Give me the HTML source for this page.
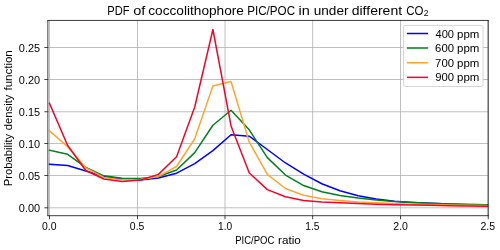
<!DOCTYPE html><html><head><meta charset="utf-8"><title>PDF of coccolithophore PIC/POC</title><style>html,body{margin:0;padding:0;background:#fff;}svg{display:block;will-change:transform;opacity:0.999;}text{font-family:"Liberation Sans",sans-serif;fill:#000;}</style></head><body>
<svg width="500" height="250" viewBox="0 0 500 250">
<rect x="0" y="0" width="500" height="250" fill="#fff"/>
<clipPath id="c"><rect x="47.87" y="20.45" width="440.28" height="195.25"/></clipPath>
<path d="M49.50 20.45V215.7M137.50 20.45V215.7M225.00 20.45V215.7M312.65 20.45V215.7M400.50 20.45V215.7M488.25 20.45V215.7M47.87 207.80H488.15M47.87 175.50H488.15M47.87 143.50H488.15M47.87 111.75H488.15M47.87 79.50H488.15M47.87 47.50H488.15" stroke="#b0b0b0" stroke-width="0.8" fill="none"/>
<polyline clip-path="url(#c)" points="49.50,164.26 67.66,165.55 85.81,171.01 103.97,176.59 122.12,179.35 140.28,180.12 158.43,178.00 176.59,173.19 194.74,163.62 212.90,150.59 231.05,134.73 249.21,136.21 267.36,149.50 285.52,162.98 303.67,174.09 321.83,183.72 339.98,190.78 358.14,195.72 376.29,199.00 394.45,201.18 412.60,202.46 430.76,203.36 448.91,203.94 467.07,204.39 485.22,204.71 503.38,204.97" fill="none" stroke="#0000ff" stroke-width="1.5" stroke-linejoin="round" stroke-linecap="square"/>
<polyline clip-path="url(#c)" points="49.50,150.27 67.66,154.31 85.81,167.47 103.97,175.82 122.12,178.26 140.28,178.52 158.43,176.53 176.59,169.98 194.74,152.64 212.90,125.23 231.05,110.27 249.21,129.79 267.36,157.59 285.52,175.05 303.67,185.58 321.83,191.68 339.98,195.40 358.14,198.10 376.29,200.02 394.45,201.50 412.60,202.46 430.76,203.36 448.91,203.94 467.07,204.39 485.22,204.71 503.38,204.97" fill="none" stroke="#00801e" stroke-width="1.5" stroke-linejoin="round" stroke-linecap="square"/>
<polyline clip-path="url(#c)" points="49.50,130.88 67.66,146.61 85.81,167.80 103.97,177.43 122.12,179.87 140.28,179.61 158.43,176.40 176.59,166.51 194.74,138.78 212.90,86.01 231.05,81.51 249.21,141.99 267.36,174.41 285.52,188.47 303.67,195.21 321.83,198.74 339.98,200.54 358.14,201.95 376.29,202.85 394.45,203.56 412.60,204.13 430.76,204.58 448.91,204.97 467.07,205.29 485.22,205.61 503.38,205.87" fill="none" stroke="#ffa52d" stroke-width="1.5" stroke-linejoin="round" stroke-linecap="square"/>
<polyline clip-path="url(#c)" points="49.50,103.27 67.66,145.52 85.81,170.49 103.97,179.03 122.12,181.47 140.28,180.12 158.43,174.34 176.59,156.69 194.74,107.00 212.90,29.51 231.05,125.94 249.21,172.80 267.36,189.62 285.52,196.81 303.67,200.47 321.83,201.89 339.98,202.72 358.14,203.56 376.29,204.20 394.45,204.65 412.60,205.03 430.76,205.35 448.91,205.67 467.07,205.93 485.22,206.19 503.38,206.38" fill="none" stroke="#fa0028" stroke-width="1.5" stroke-linejoin="round" stroke-linecap="square"/>
<path d="M49.50 215.7v3.5M137.50 215.7v3.5M225.00 215.7v3.5M312.65 215.7v3.5M400.50 215.7v3.5M488.25 215.7v3.5M47.87 207.80h-3.5M47.87 175.50h-3.5M47.87 143.50h-3.5M47.87 111.75h-3.5M47.87 79.50h-3.5M47.87 47.50h-3.5" stroke="#111" stroke-width="0.8" fill="none"/>
<path d="M47.87 20.05V216.1M488.15 20.05V216.1M47.449999999999996 20.45H488.54999999999995M47.449999999999996 215.7H488.54999999999995" fill="none" stroke="#111" stroke-width="0.82"/>
<text x="42.03" y="230.30" font-size="10.25" textLength="14.49" lengthAdjust="spacingAndGlyphs">0.0</text>
<text x="129.89" y="230.30" font-size="10.25" textLength="14.53" lengthAdjust="spacingAndGlyphs">0.5</text>
<text x="218.10" y="230.30" font-size="10.25" textLength="14.13" lengthAdjust="spacingAndGlyphs">1.0</text>
<text x="305.24" y="230.30" font-size="10.25" textLength="14.17" lengthAdjust="spacingAndGlyphs">1.5</text>
<text x="393.34" y="230.30" font-size="10.25" textLength="14.62" lengthAdjust="spacingAndGlyphs">2.0</text>
<text x="480.48" y="230.30" font-size="10.25" textLength="14.65" lengthAdjust="spacingAndGlyphs">2.5</text>
<text x="18.87" y="211.65" font-size="10.25" textLength="21.24" lengthAdjust="spacingAndGlyphs">0.00</text>
<text x="18.87" y="179.65" font-size="10.25" textLength="21.28" lengthAdjust="spacingAndGlyphs">0.05</text>
<text x="18.87" y="147.65" font-size="10.25" textLength="21.24" lengthAdjust="spacingAndGlyphs">0.10</text>
<text x="18.87" y="115.65" font-size="10.25" textLength="21.28" lengthAdjust="spacingAndGlyphs">0.15</text>
<text x="18.87" y="83.65" font-size="10.25" textLength="21.24" lengthAdjust="spacingAndGlyphs">0.20</text>
<text x="18.87" y="51.65" font-size="10.25" textLength="21.28" lengthAdjust="spacingAndGlyphs">0.25</text>
<text x="235.23" y="243.60" font-size="10.25" textLength="39.11" lengthAdjust="spacingAndGlyphs">PIC/POC</text>
<text x="278.10" y="243.60" font-size="10.25" textLength="22.80" lengthAdjust="spacingAndGlyphs">ratio</text>
<g transform="translate(12.35,0) rotate(-90)">
<text x="-90.57" y="0.00" font-size="10.25" textLength="40.30" lengthAdjust="spacingAndGlyphs">function</text>
<text x="-130.17" y="0.00" font-size="10.25" textLength="35.61" lengthAdjust="spacingAndGlyphs">density</text>
<text x="-186.33" y="0.00" font-size="10.25" textLength="52.48" lengthAdjust="spacingAndGlyphs">Probability</text>
</g>
<text x="107.25" y="14.75" font-size="12.25" textLength="22.18" lengthAdjust="spacingAndGlyphs">PDF</text>
<text x="133.26" y="14.75" font-size="12.25" textLength="12.12" lengthAdjust="spacingAndGlyphs">of</text>
<text x="148.30" y="14.75" font-size="12.25" textLength="95.58" lengthAdjust="spacingAndGlyphs">coccolithophore</text>
<text x="247.20" y="14.75" font-size="12.25" textLength="47.92" lengthAdjust="spacingAndGlyphs">PIC/POC</text>
<text x="298.63" y="14.75" font-size="12.25" textLength="11.29" lengthAdjust="spacingAndGlyphs">in</text>
<text x="313.72" y="14.75" font-size="12.25" textLength="34.76" lengthAdjust="spacingAndGlyphs">under</text>
<text x="351.71" y="14.75" font-size="12.25" textLength="50.39" lengthAdjust="spacingAndGlyphs">different</text>
<text x="406.23" y="14.75" font-size="12.25" textLength="17.23" lengthAdjust="spacingAndGlyphs">CO</text>
<text x="423.87" y="16.45" font-size="9.0" textLength="4.76" lengthAdjust="spacingAndGlyphs">2</text>
<rect x="403.55" y="25.4" width="79.45" height="61.1" rx="1.8" ry="1.8" fill="#fff" fill-opacity="0.8" stroke="#ccc" stroke-opacity="0.8" stroke-width="1"/>
<path d="M407.6 33.5H427.4" stroke="#0000ff" stroke-width="1.5" stroke-linecap="square"/>
<text x="435.46" y="37.50" font-size="10.25" textLength="18.57" lengthAdjust="spacingAndGlyphs">400</text>
<text x="457.07" y="37.50" font-size="10.25" textLength="22.33" lengthAdjust="spacingAndGlyphs">ppm</text>
<path d="M407.6 48.0H427.4" stroke="#00801e" stroke-width="1.5" stroke-linecap="square"/>
<text x="435.13" y="52.00" font-size="10.25" textLength="18.90" lengthAdjust="spacingAndGlyphs">600</text>
<text x="457.07" y="52.00" font-size="10.25" textLength="22.33" lengthAdjust="spacingAndGlyphs">ppm</text>
<path d="M407.6 62.75H427.4" stroke="#ffa52d" stroke-width="1.5" stroke-linecap="square"/>
<text x="435.12" y="66.75" font-size="10.25" textLength="18.91" lengthAdjust="spacingAndGlyphs">700</text>
<text x="457.07" y="66.75" font-size="10.25" textLength="22.33" lengthAdjust="spacingAndGlyphs">ppm</text>
<path d="M407.6 77.35H427.4" stroke="#fa0028" stroke-width="1.5" stroke-linecap="square"/>
<text x="435.18" y="81.35" font-size="10.25" textLength="18.85" lengthAdjust="spacingAndGlyphs">900</text>
<text x="457.07" y="81.35" font-size="10.25" textLength="22.33" lengthAdjust="spacingAndGlyphs">ppm</text>
</svg></body></html>
